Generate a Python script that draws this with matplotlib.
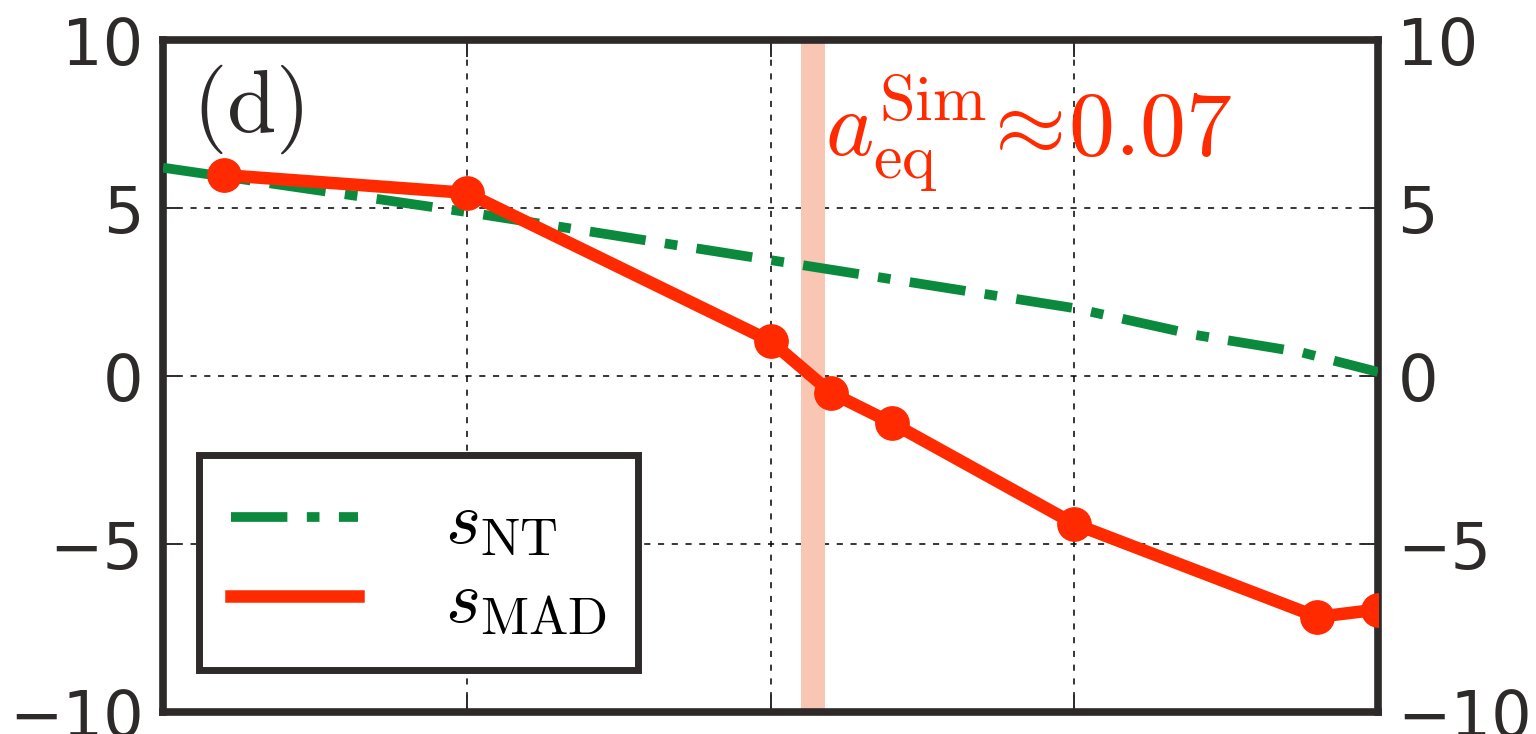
import numpy as np
import matplotlib
matplotlib.use('Agg')
import matplotlib.pyplot as plt
from matplotlib.lines import Line2D

# data (x in arbitrary units, grid at 1, 2, 3)
x_nt = [0.0, 1.0, 2.0, 3.0, 3.4, 3.75, 4.0]
s_nt = [6.2, 4.88, 3.45, 2.02, 1.22, 0.7, 0.12]

x_mad = [0.2, 1.0, 2.0, 2.2, 2.4, 3.0, 3.8, 4.0]
s_mad = [5.98, 5.45, 1.04, -0.5, -1.4, -4.4, -7.17, -6.95]

a_eq = 2.14
band_half = 0.04
yticks = [-10, -5, 0, 5, 10]
xgrid = [1, 2, 3]

plt.rcParams['mathtext.fontset'] = 'cm'
plt.rcParams['font.family'] = ['DejaVu Sans']

red = '#ff2a00'
green = '#0b8a3e'
dark = '#2e2a2a'
nt_dashes = [5.8, 2.0, 1.3, 2.0]

fig = plt.figure(figsize=(15.36, 7.34), dpi=100)
ax = fig.add_axes([163 / 1536, 22 / 734, 1215 / 1536, 672 / 734])

ax.axvspan(a_eq - band_half, a_eq + band_half, color='#f9c6b4', lw=0, zorder=1)
ax.plot(x_nt, s_nt, color=green, lw=7, dashes=nt_dashes, zorder=3)
ax.plot(x_mad, s_mad, color=red, lw=9, marker='o', ms=24, mec=red, zorder=4)

ax.set_xlim(0, 4)
ax.set_ylim(-10, 10)
ax.set_xticks(xgrid)
ax.set_xticklabels([])
ax.set_yticks(yticks)
ax.set_yticklabels([f'{v}'.replace('-', '\u2212') for v in yticks])

ax.grid(True, color='k', ls=(0, (4, 5)), lw=1.1, zorder=0)
ax.set_axisbelow(True)
ax.tick_params(direction='in', length=12, width=1.4, color=dark,
               top=True, right=True, labelright=True,
               labelsize=46, labelcolor=dark, pad=14)
for sp in ax.spines.values():
    sp.set_linewidth(5.5)
    sp.set_color(dark)

ax.text(0.024, 0.967, r'$\mathrm{(d)}$', transform=ax.transAxes, fontsize=64,
        color=dark, va='top', ha='left')
ax.text(2.18, 7.2, r'$a_{\rm eq}^{\rm Sim}\!\approx\!0.07$', color=red,
        fontsize=66, va='center', ha='left')

handles = [Line2D([], [], color=green, lw=7, dashes=nt_dashes),
           Line2D([], [], color=red, lw=9)]
leg = ax.legend(handles, [r'$s_{\rm NT}$', r'$s_{\rm MAD}$'],
                loc='lower left', bbox_to_anchor=(0.030, 0.0625),
                borderaxespad=0, fontsize=54, frameon=True, fancybox=False,
                handlelength=1.7, handletextpad=1.15, borderpad=0.42,
                labelspacing=0.08)
leg.get_frame().set_edgecolor(dark)
leg.get_frame().set_linewidth(5)
leg.get_frame().set_alpha(1)

fig.savefig('out.png', dpi=100)
